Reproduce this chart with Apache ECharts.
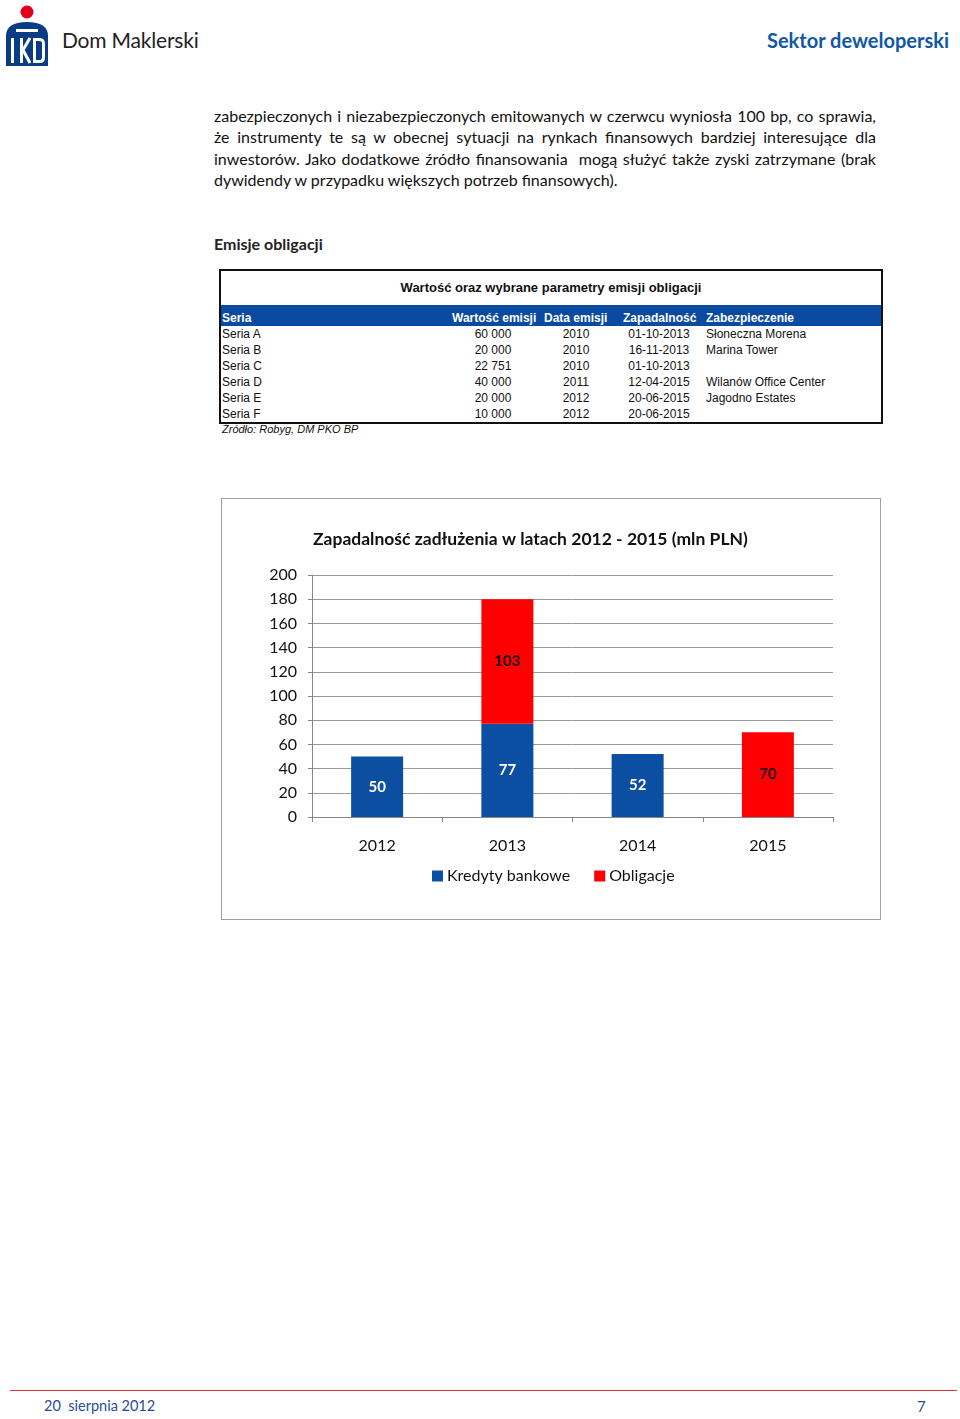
<!DOCTYPE html>
<html><head><meta charset="utf-8">
<script src="https://cdn.jsdelivr.net/npm/echarts@6/dist/echarts.min.js"></script>
<style>
html,body{margin:0;padding:0;background:#fff;}
body{width:960px;height:1419px;position:relative;overflow:hidden;font-family:Lato,"Open Sans",sans-serif;}
.abs{position:absolute;}
#para{left:214px;top:105px;width:662px;font-size:16px;line-height:21.3px;color:#111;}
#para div{text-align:justify;text-align-last:justify;white-space:nowrap;}
#para div.last{text-align-last:left;}
#tbl{left:219px;top:269px;width:660px;height:151px;border:2px solid #111;font-family:"Liberation Sans",Arial,sans-serif;}
.tr{position:absolute;left:0;width:660px;height:16px;font-size:12px;line-height:16px;color:#111;}
.tr span{position:absolute;white-space:nowrap;}
#chartbox{left:221px;top:498px;width:658px;height:420px;border:1px solid #a0a0a0;}
#chart{width:658px;height:420px;}
</style></head><body>
<!-- header -->
<svg class="abs" style="left:4px;top:2px" width="50" height="66" viewBox="0 0 50 66">
  <circle cx="23" cy="10" r="6.5" fill="#e3001b"/>
  <path d="M2 34 Q2 20 23 20 Q44 20 44 34 L44 64 L2 64 Z" fill="#0a3c86"/>
  <rect x="12" y="27" width="22" height="3" fill="#fff"/>
  <rect x="7" y="36" width="3" height="25" fill="#fff"/>
  <rect x="16" y="36" width="3" height="25" fill="#fff"/>
  <path d="M19 48 L26 36 M19 48 L26 61" stroke="#fff" stroke-width="3" fill="none"/>
  <rect x="29" y="36" width="3" height="25" fill="#fff"/>
  <path d="M32 37.5 L36 37.5 Q39.5 37.5 39.5 42 L39.5 55 Q39.5 59.5 36 59.5 L32 59.5" stroke="#fff" stroke-width="3" fill="none"/>
</svg>
<div class="abs" style="left:62px;top:27px;font-size:21px;color:#222;letter-spacing:-0.2px;">Dom Maklerski</div>
<div class="abs" style="left:767px;top:28px;font-size:20px;font-weight:bold;color:#1257a5;">Sektor deweloperski</div>

<div id="para" class="abs">
<div>zabezpieczonych i niezabezpieczonych emitowanych w czerwcu wyniosła 100 bp, co sprawia,</div>
<div>że instrumenty te są w obecnej sytuacji na rynkach finansowych bardziej interesujące dla</div>
<div>inwestorów. Jako dodatkowe źródło finansowania &nbsp;mogą służyć także zyski zatrzymane (brak</div>
<div class="last">dywidendy w przypadku większych potrzeb finansowych).</div>
</div>

<div class="abs" style="left:214px;top:234px;font-size:16px;font-weight:bold;color:#222;">Emisje obligacji</div>

<div id="tbl" class="abs"></div>
<div class="abs" style="left:222px;top:423px;font-size:11px;font-style:italic;color:#111;font-family:'Liberation Sans',Arial,sans-serif;">Źródło: Robyg, DM PKO BP</div>

<div id="chartbox" class="abs"><div id="chart"></div></div>

<!-- footer -->
<div class="abs" style="left:10px;top:1390px;width:947px;height:1px;background:#e0303a;"></div>
<div class="abs" style="left:44px;top:1397px;font-size:14.5px;color:#1f4e9b;">20&nbsp; sierpnia 2012</div>
<div class="abs" style="left:917px;top:1397px;font-size:15px;color:#1f4e9b;">7</div>

<script>
// ---- table data ----
const seriaNames = ["Seria A","Seria B","Seria C","Seria D","Seria E","Seria F"];
const wartoscEmisji = ["60 000","20 000","22 751","40 000","20 000","10 000"];
const dataEmisji = ["2010","2010","2010","2011","2012","2012"];
const zapadalnosc = ["01-10-2013","16-11-2013","01-10-2013","12-04-2015","20-06-2015","20-06-2015"];
const zabezpieczenie = ["Słoneczna Morena","Marina Tower","","Wilanów Office Center","Jagodno Estates",""];
const tableHeaders = ["Seria","Wartość emisji","Data emisji","Zapadalność","Zabezpieczenie"];

// ---- chart data ----
const categories = ["2012","2013","2014","2015"];
const kredytyBankowe = [50, 77, 52, null];
const obligacje = [null, 103, null, 70];
const yTicks = [0, 20, 40, 60, 80, 100, 120, 140, 160, 180, 200];

// build table
(function(){
  const t = document.getElementById('tbl');
  let h = '<div style="position:absolute;left:0;top:9px;width:660px;text-align:center;font-size:13px;font-weight:bold;color:#111;">Wartość oraz wybrane parametry emisji obligacji</div>';
  h += '<div class="tr" style="top:34px;height:21px;background:#0a4aa0;color:#fff;font-weight:bold;line-height:27px;">' +
    '<span style="left:1px">'+tableHeaders[0]+'</span>' +
    '<span style="left:231px">'+tableHeaders[1]+'</span>' +
    '<span style="left:323px">'+tableHeaders[2]+'</span>' +
    '<span style="left:402px">'+tableHeaders[3]+'</span>' +
    '<span style="left:485px">'+tableHeaders[4]+'</span></div>';
  for (let i=0;i<seriaNames.length;i++){
    const top = 55 + i*16;
    h += '<div class="tr" style="top:'+top+'px;">' +
      '<span style="left:1px">'+seriaNames[i]+'</span>' +
      '<span style="left:222px;width:100px;text-align:center">'+wartoscEmisji[i]+'</span>' +
      '<span style="left:325px;width:60px;text-align:center">'+dataEmisji[i]+'</span>' +
      '<span style="left:396px;width:84px;text-align:center">'+zapadalnosc[i]+'</span>' +
      '<span style="left:485px">'+zabezpieczenie[i]+'</span></div>';
  }
  t.innerHTML = h;
})();

const chart = echarts.init(document.getElementById('chart'), null, {renderer:'canvas'});
const fontFam = 'Lato, "Open Sans", sans-serif';
chart.setOption({
  animation:false,
  title:{
    text:'Zapadalność zadłużenia w latach 2012 - 2015 (mln PLN)',
    left:86, top:26,
    textStyle:{fontFamily:fontFam,fontSize:17.5,fontWeight:'bold',color:'#111'}
  },
  legend:{
    data:['Kredyty bankowe','Obligacje'],
    left:205, top:364,
    itemWidth:11, itemHeight:11, itemGap:24,
    icon:'rect',
    textStyle:{fontFamily:fontFam,fontSize:16,color:'#111',padding:[0,0,0,-1]}
  },
  grid:{left:90,right:47,top:76,bottom:102},
  xAxis:{
    type:'category',
    data:categories,
    axisLine:{lineStyle:{color:'#888',width:1}},
    axisTick:{show:true,length:5,lineStyle:{color:'#888'}},
    axisLabel:{fontFamily:fontFam,fontSize:16,color:'#111',margin:21}
  },
  yAxis:{
    type:'value',min:0,max:200,interval:20,
    axisLine:{show:true,lineStyle:{color:'#888'}},
    axisTick:{show:true,length:4,lineStyle:{color:'#888'}},
    axisLabel:{fontFamily:fontFam,fontSize:16,color:'#111',margin:15,
      formatter:function(v){return yTicks.indexOf(v)>=0?String(v):'';}},
    splitLine:{lineStyle:{color:'#999',width:1}}
  },
  series:[
    {name:'Kredyty bankowe',type:'bar',stack:'a',barWidth:52,data:kredytyBankowe,
     itemStyle:{color:'#0b4ea2'},
     label:{show:true,position:'inside',color:'#fff',fontWeight:'bold',fontSize:15,fontFamily:fontFam}},
    {name:'Obligacje',type:'bar',stack:'a',barWidth:52,data:obligacje,
     itemStyle:{color:'#ff0000'},
     label:{show:true,position:'inside',color:'#1a0a0a',fontWeight:'bold',fontSize:15,fontFamily:fontFam}}
  ]
});
</script>
</body></html>
